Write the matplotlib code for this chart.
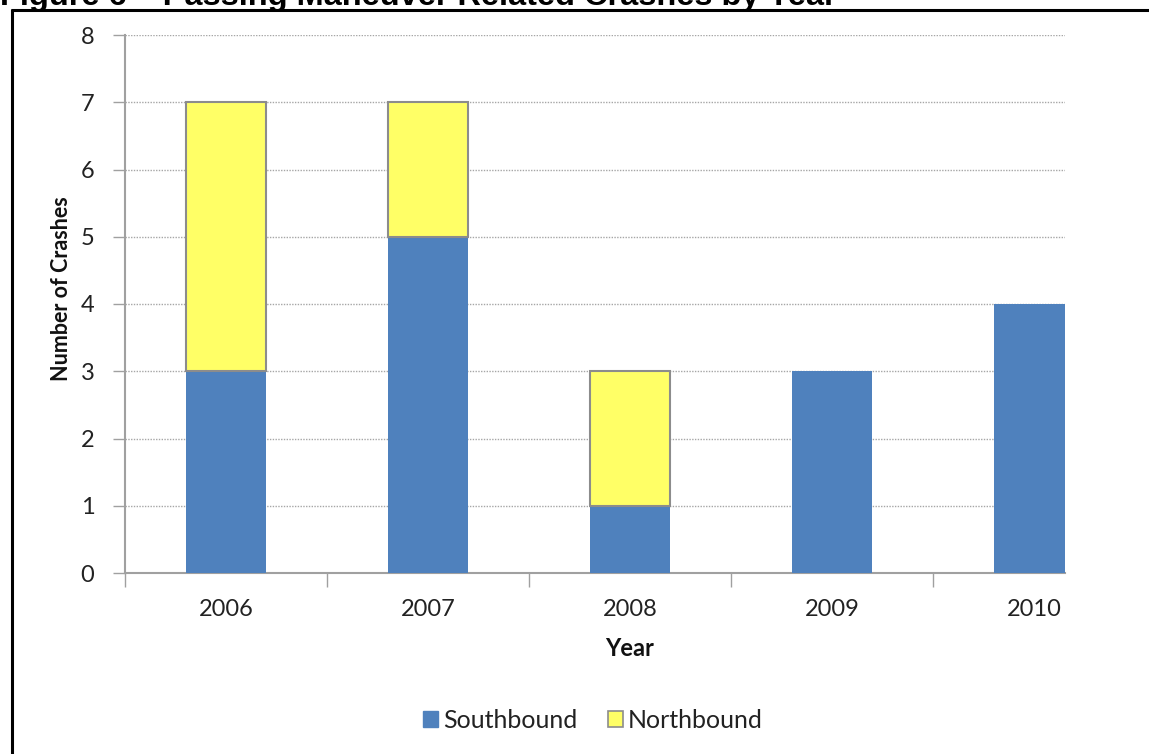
#!/usr/bin/env python

import matplotlib
matplotlib.use("Agg")
import matplotlib.pyplot as plt
import numpy as np
from matplotlib.lines import Line2D
from matplotlib.patches import Patch

# Crash counts per year, split by direction of travel
years = ["2006", "2007", "2008", "2009", "2010"]
southbound = [3, 5, 1, 3, 4]
northbound = [4, 2, 2, 0, 0]
y_ticks = [0, 1, 2, 3, 4, 5, 6, 7, 8]

title = "Figure 6 \u2013 Passing Maneuver Related Crashes by Year"

BLUE = "#4F81BD"
YELLOW = "#FFFF66"
GRID = "#a6a6a6"
AXIS = "#a0a0a0"

W, H = 1149, 754


def main() -> None:
    plt.rcParams["font.family"] = ["Lato", "DejaVu Sans"]

    fig = plt.figure(figsize=(W / 100, H / 100), dpi=100)
    fig.patch.set_facecolor("white")

    # Plot area placed in pixel terms
    left, right, bottom, top = 125, 1065, 573, 35
    ax = fig.add_axes([left / W, 1 - bottom / H, (right - left) / W, (bottom - top) / H])

    x = np.arange(len(years))
    bar_w = 0.4
    ax.bar(x, southbound, width=bar_w, color=BLUE, zorder=3)

    # Only years with northbound crashes get a stacked segment
    nb = np.array(northbound)
    has_nb = nb > 0
    ax.bar(x[has_nb], nb[has_nb], width=bar_w,
           bottom=np.array(southbound)[has_nb], color=YELLOW,
           edgecolor="#8c8c8c", linewidth=1.5, zorder=3)

    ax.set_xlim(-0.5, -0.5 + (right - left) / 202)
    ax.set_ylim(0, 8)

    # Y axis: ticks, dotted gridlines
    ax.set_yticks(y_ticks)
    ax.set_yticklabels([str(t) for t in y_ticks], fontsize=17, color="#222222")
    ax.yaxis.grid(True, linestyle=(0, (1, 1)), color=GRID, linewidth=1.0, zorder=0)
    ax.tick_params(axis="y", length=9, width=1, color=AXIS, pad=13)

    # X axis: labels at category centers, ticks between categories
    ax.set_xticks(x)
    ax.set_xticklabels(years, fontsize=17, color="#222222")
    ax.set_xticks(np.arange(len(years)) - 0.5, minor=True)
    ax.tick_params(axis="x", which="major", length=0, pad=19)
    ax.tick_params(axis="x", which="minor", length=10, width=1, color=AXIS)

    for side in ("top", "right"):
        ax.spines[side].set_visible(False)
    for side in ("left", "bottom"):
        ax.spines[side].set_color(AXIS)
        ax.spines[side].set_linewidth(1.5)

    # Axis titles
    fig.text(630 / W, 1 - 656 / H, "Year", fontsize=17, fontweight="bold",
             ha="center", va="baseline", color="#111111")
    fig.text(62 / W, 1 - 289 / H, "Number of Crashes", fontsize=15.5,
             fontweight="bold", rotation=90, ha="center", va="center",
             color="#111111")

    # Legend
    handles = [
        Patch(facecolor=BLUE, edgecolor=BLUE, label="Southbound"),
        Patch(facecolor=YELLOW, edgecolor="#8c8c8c", linewidth=1.2, label="Northbound"),
    ]
    fig.legend(handles=handles, loc="center", bbox_to_anchor=(593 / W, 1 - 720 / H),
               ncol=2, frameon=False, fontsize=18, handlelength=0.6,
               handleheight=0.6, handletextpad=0.2, columnspacing=1.2,
               labelcolor="#222222")

    # Figure caption and enclosing frame
    fig.text(0 / W, 1 - 5 / H, title, fontsize=23.4, fontweight="bold",
             family="Liberation Sans", ha="left", va="baseline", color="black")
    fig.add_artist(Line2D([11 / W, 1.0], [1 - 10 / H, 1 - 10 / H],
                          color="black", linewidth=2.2, solid_capstyle="butt"))
    fig.add_artist(Line2D([12 / W, 12 / W], [1 - 9 / H, 0.0],
                          color="black", linewidth=2.2, solid_capstyle="butt"))

    fig.savefig("out.png", dpi=100)


if __name__ == "__main__":
    main()
